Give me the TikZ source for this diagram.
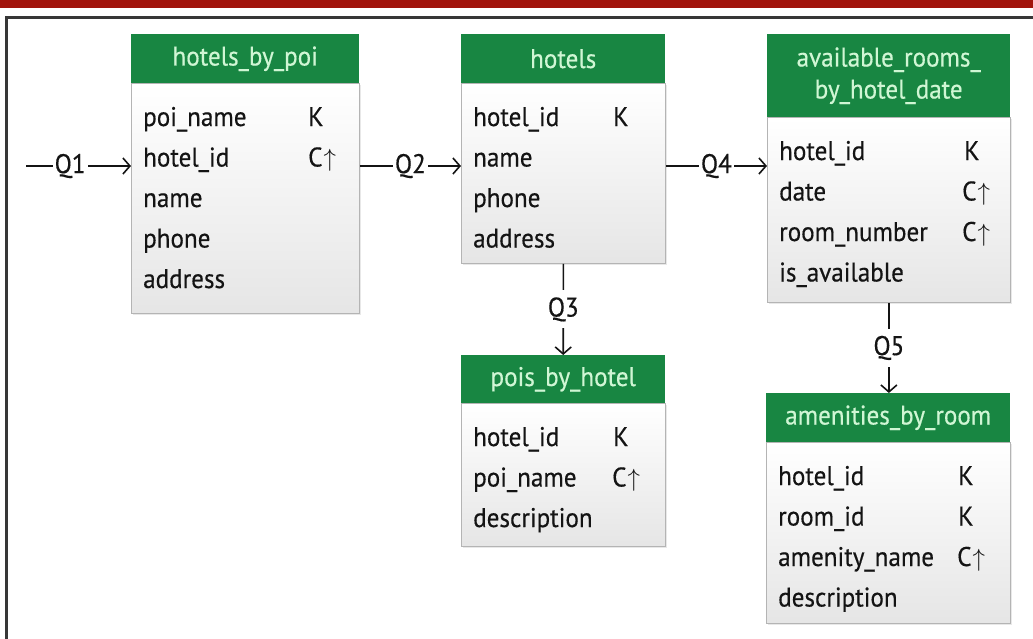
\documentclass[tikz,border=0pt]{standalone}
\usepackage{fontspec}
\setmainfont{PT Sans}[FakeStretch=0.93, FakeBold=0.4]
\usetikzlibrary{arrows.meta,shadows}

\definecolor{hdrgreen}{RGB}{24,134,66}
\definecolor{hdrtext}{RGB}{208,246,212}
\definecolor{bartop}{RGB}{162,20,12}
\definecolor{framegray}{RGB}{55,55,55}
\definecolor{boxedge}{RGB}{180,180,180}
\definecolor{fieldtext}{RGB}{20,20,20}

\tikzset{
  tfont/.style={font=\fontsize{27}{32}\selectfont},
  hdr/.style={tfont, fill=hdrgreen, text=hdrtext, anchor=north west,
    inner sep=0pt, align=center},
  tbody/.style={draw=boxedge, line width=0.8pt, top color=white,
    bottom color=black!10, anchor=north west, inner sep=0pt,
    drop shadow={opacity=0.18, shadow xshift=1.5pt, shadow yshift=-1.5pt}},
  field/.style={tfont, anchor=base west, inner sep=0pt, text=fieldtext},
  conn/.style={line width=1.6pt, fieldtext,
    -{Straight Barb[length=7pt,width=16pt,line width=1.6pt]}},
  qlabel/.style={tfont, fill=white, inner xsep=2pt, inner ysep=7pt, text=fieldtext},
}

% a table: body box with a green title bar on top
% #1 name, #2 x, #3 top y, #4 width, #5 title height, #6 body height, #7 title
\newcommand\dbtable[7]{%
  \node[tbody, minimum width=#4pt, minimum height=#6pt] (#1) at (#2,#3+#5) {};
  \node[hdr, minimum width=#4pt, minimum height=#5pt] (#1-head) at (#2,#3) {#7};
}
% a column row: #1 table, #2 row index, #3 key offset, #4 column name, #5 key kind
\newcommand\dbfield[5]{%
  \node[field] (#1-f#2) at ([xshift=12pt,yshift={-43pt-40.5pt*(#2-1)}]#1.north west) {#4};
  \node[field] (#1-k#2) at ([xshift=#3pt,yshift={-43pt-40.5pt*(#2-1)}]#1.north west) {#5};
}
\newcommand\asc{C\kern1pt$\uparrow$}

\begin{document}
\begin{tikzpicture}[x=1pt,y=-1pt]
\useasboundingbox (0,0) rectangle (1033,638);

% page decoration: red top bar and frame lines
\fill[bartop] (0,0) rectangle (1033,8);
\draw[framegray, line width=3pt] (6,640) -- (6,17) -- (1035,17);

% tables
\dbtable{poi}{131}{34}{228}{49}{230}{hotels\_by\_poi}
\dbtable{htl}{461}{34}{204}{49}{180}{hotels}
\dbtable{avr}{767}{34}{243}{83}{185}{available\_rooms\_\\by\_hotel\_date}
\dbtable{pbh}{461}{355}{204}{48}{143}{pois\_by\_hotel}
\dbtable{amr}{766}{393}{244}{49}{181}{amenities\_by\_room}

\dbfield{poi}{1}{177}{poi\_name}{K}
\dbfield{poi}{2}{177}{hotel\_id}{\asc}
\dbfield{poi}{3}{177}{name}{}
\dbfield{poi}{4}{177}{phone}{}
\dbfield{poi}{5}{177}{address}{}

\dbfield{htl}{1}{152}{hotel\_id}{K}
\dbfield{htl}{2}{152}{name}{}
\dbfield{htl}{3}{152}{phone}{}
\dbfield{htl}{4}{152}{address}{}

\dbfield{avr}{1}{197}{hotel\_id}{K}
\dbfield{avr}{2}{195}{date}{\asc}
\dbfield{avr}{3}{195}{room\_number}{\asc}
\dbfield{avr}{4}{195}{is\_available}{}

\dbfield{pbh}{1}{152}{hotel\_id}{K}
\dbfield{pbh}{2}{151}{poi\_name}{\asc}
\dbfield{pbh}{3}{151}{description}{}

\dbfield{amr}{1}{192}{hotel\_id}{K}
\dbfield{amr}{2}{192}{room\_id}{K}
\dbfield{amr}{3}{191}{amenity\_name}{\asc}
\dbfield{amr}{4}{191}{description}{}

% query paths
\coordinate (q1in) at (26,166);
\draw[conn] (q1in) -- node[qlabel, pos=0.42] (q1) {Q1} (poi.west |- q1in);
\draw[conn] (poi.east |- q1in) -- node[qlabel] (q2) {Q2} (htl.west |- q1in);
\draw[conn] (htl.east |- q1in) -- node[qlabel] (q4) {Q4} (avr.west |- q1in);
\draw[conn] (htl.south) -- node[qlabel] (q3) {Q3} (pbh-head.north);
\draw[conn] (avr.south) -- node[qlabel] (q5) {Q5} (amr-head.north -| avr.south);
\end{tikzpicture}
\end{document}
